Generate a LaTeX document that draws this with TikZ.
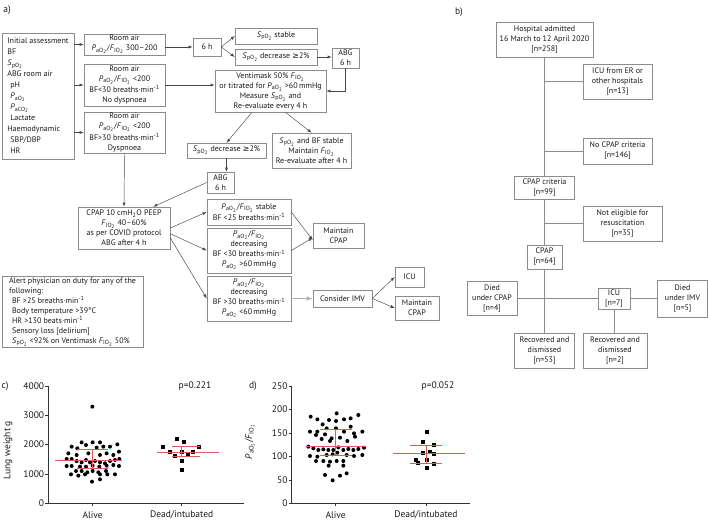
\documentclass[tikz,border=0pt]{standalone}
\usepackage{fontspec}
\setmainfont{PT Sans}
\newfontfamily\geqfont{DejaVu Sans}
\usetikzlibrary{arrows}

\definecolor{boxgray}{RGB}{140,140,140}
\definecolor{linegray}{RGB}{70,70,70}
\definecolor{medred}{RGB}{228,90,90}

\newcommand{\SpO}{\textit{S}\textsubscript{pO\textsubscript{2}}}
\newcommand{\PaO}{\textit{P}\textsubscript{aO\textsubscript{2}}}
\newcommand{\PaCO}{\textit{P}\textsubscript{aCO\textsubscript{2}}}
\newcommand{\FIO}{\textit{F}\textsubscript{IO\textsubscript{2}}}
\newcommand{\geqs}{{\geqfont\char"2265}}
\newcommand{\permin}{·min\textsuperscript{-1}}
\newcommand{\ncount}[1]{[n=#1]}

\begin{document}
\begin{tikzpicture}[x=1pt,y=-1pt,>=latex,
  every node/.style={font=\fontsize{8}{10}\selectfont, text=black!90},
  box/.style 2 args={draw=boxgray, line width=0.6pt, align=center, inner sep=1pt,
    minimum width=#1, minimum height=#2},
  link/.style={->, draw=linegray, line width=0.45pt},
  tree/.style={draw=boxgray, line width=0.6pt},
  plot/.style={font=\fontsize{9.5}{10}\selectfont},
  redbar/.style={draw=medred, line width=0.7pt}]
\useasboundingbox (0,0) rectangle (708,522);

% a) flow chart
\node[plot] (lbla) at (7,10) {a)};
\node[box={72}{126}, align=left, font=\fontsize{8}{11}\selectfont] (init) at (38,96)
  {Initial assessment\\ BF\\ \SpO\\ ABG room air\\ \hspace*{3pt}pH\\ \hspace*{3pt}\PaO\\
   \hspace*{3pt}\PaCO\\ \hspace*{3pt}Lactate\\ Haemodynamic\\ \hspace*{3pt}SBP/DBP\\ \hspace*{3pt}HR};
\node[box={81}{21}] (room1) at (124.5,44.5) {Room air\\ \PaO/\FIO\ 300--200};
\node[box={81}{42}] (room2) at (124.5,85) {Room air\\ \PaO/\FIO\ <200\\ BF<30 breaths\permin\\ No dyspnoea};
\node[box={81}{41}] (room3) at (124.5,132.5) {Room air\\ \PaO/\FIO\ <200\\ BF>30 breaths\permin\\ Dyspnoea};
\node[box={28}{18}] (sixh) at (207,47) {6 h};
\node[box={82}{16}] (spstab) at (276,36) {\SpO\ stable};
\node[box={82}{16}] (spdec) at (276,57) {\SpO\ decrease \geqs2\%};
\node[box={27}{20}] (abga) at (345.5,58) {ABG\\6 h};
\node[box={111}{42}] (venti) at (270.5,91)
  {Ventimask 50\% \FIO\\ or titrated for \PaO\ >60\,mmHg\\ Measure \SpO\ and\\ Re-evaluate every 4 h};
\node[box={79}{15}] (spdecb) at (226.5,150.5) {\SpO\ decrease \geqs2\%};
\node[box={79}{35}] (spbf) at (311.5,150.5) {\SpO\ and BF stable\\ Maintain \FIO\\ Re-evaluate after 4 h};
\node[box={27}{21}] (abgb) at (220.5,182.5) {ABG\\6 h};
\node[box={92}{42}] (cpap) at (124,228)
  {CPAP 10 cmH\textsubscript{2}O PEEP\\ \FIO\ 40--60\%\\ as per COVID protocol\\ ABG after 4 h};
\node[box={84}{26}] (pstab) at (249,212) {\PaO/\FIO\ stable\\ BF <25 breaths\permin};
\node[box={84}{45}] (pdeca) at (249,250.5) {\PaO/\FIO\\ decreasing\\ BF <30 breaths\permin\\ \PaO\ >60\,mmHg};
\node[box={84}{45}] (pdecb) at (249,298.5) {\PaO/\FIO\\ decreasing\\ BF >30 breaths\permin\\ \PaO\ <60\,mmHg};
\node[box={51}{25}] (maintA) at (338.5,235.5) {Maintain\\ CPAP};
\node[box={59}{17}] (imv) at (342.5,298.5) {Consider IMV};
\node[box={29}{20}] (icua) at (409.5,277) {ICU};
\node[box={44}{24}] (maintB) at (417,308) {Maintain\\ CPAP};
\node[box={141}{58}, align=left] (alert) at (72.5,312)
  {Alert physician on duty for any of the\\ following:\\ \hspace*{3pt}BF >25 breaths\permin\\
   \hspace*{3pt}Body temperature >39°C\\ \hspace*{3pt}HR >130 beats\permin\\
   \hspace*{3pt}Sensory loss [delirium]\\ \hspace*{3pt}\SpO\ <92\% on Ventimask \FIO\ 50\%};

\draw[link] (init.east |- room1) -- (room1);
\draw[link] (init.east |- room2) -- (room2);
\draw[link] (init.east |- room3) -- (room3);
\draw[link] (room1.east |- sixh.west) -- (sixh.west);
\draw[link] (sixh.east) -- (spstab.west);
\draw[link] (sixh.east) -- (spdec.west);
\draw[link] (spdec.east) -- (abga.west |- spdec.east);
\draw[link] (abga.south) |- (venti.east);
\draw[link] (room2.east) -- (venti.west |- room2.east);
\draw[link] (venti.229) -- (spdecb.north);
\draw[link] (venti.305) -- (spbf.north);
\draw[link] (spdecb.south) -- (spdecb.south |- abgb.north);
\draw[link] (abgb.west) -- (cpap.36);
\draw[link] (room3.south) -- (cpap.north);
\draw[link] (cpap.east) -- (pstab.west);
\draw[link] (cpap.-7) -- (pdeca.west);
\draw[link] (cpap.-12) -- (pdecb.west);
\draw[link] (pstab.east) -- (maintA.190);
\draw[link] (pdeca.east) -- (maintA.185);
\draw[link, draw=gray!60, line width=1.1pt] (pdecb.east) -- (imv.west);
\draw[link] (imv.east) -- (icua.west);
\draw[link] (imv.east) -- (maintB.west);

% b) patient flow
\node[plot] (lblb) at (459,12) {b)};
\node[box={97}{35}] (hosp) at (544.5,39.5) {Hospital admitted\\ 16 March to 12 April 2020\\ \ncount{258}};
\node[box={69}{35}] (icuer) at (617.5,81.5) {ICU from ER or\\ other hospitals\\ \ncount{13}};
\node[box={69}{26}] (nocpap) at (617.5,151) {No CPAP criteria\\ \ncount{146}};
\node[box={60}{23}] (crit) at (544.5,187.5) {CPAP criteria\\ \ncount{99}};
\node[box={79}{35}] (noteli) at (622.5,223.5) {Not eligible for\\ resuscitation\\ \ncount{35}};
\node[box={35}{24}] (cpapb) at (544.5,257) {CPAP\\ \ncount{64}};
\node[box={50}{34}] (diedc) at (492,298.5) {Died\\ under CPAP\\ \ncount{4}};
\node[box={32}{21}] (icub) at (614,298.5) {ICU\\ \ncount{7}};
\node[box={50}{37}] (diedi) at (682.5,298.5) {Died\\ under IMV\\ \ncount{5}};
\node[box={60}{35}] (reca) at (544.5,350.5) {Recovered and\\ dismissed\\ \ncount{53}};
\node[box={64}{35}] (recb) at (615,350.5) {Recovered and\\ dismissed\\ \ncount{2}};

\draw[tree] (hosp.south) -- (crit.north);
\draw[tree] (hosp.south |- icuer.west) -- (icuer.west);
\draw[tree] (hosp.south |- nocpap.west) -- (nocpap.west);
\draw[tree] (crit.south) -- (cpapb.north);
\draw[tree] (crit.south |- noteli.west) -- (noteli.west);
\draw[tree] (cpapb.south) -- (reca.north);
\draw[tree] (diedc.east) -- (icub.west);
\draw[tree] (icub.east) -- (diedi.west);
\draw[tree] (icub.south) -- (icub.south |- recb.north);

% c) lung weight
\begin{scope}[shift={(0,385)}, x=0.3333pt, y=-0.3333pt]
\node[plot] (lblc) at (15,3) {c)};
\draw[line width=0.6pt, black!80] (145,3) -- (145,355) -- (732,355);
\foreach \v/\yy in {0/355,1000/267,2000/179,3000/91,4000/3} {
  \draw[line width=0.6pt, black!80] (145,\yy) -- (136,\yy);
  \node[plot, anchor=east, inner sep=1pt] (cy\v) at (136,\yy) {\v};
}
\foreach \xx in {278,545} \draw[line width=0.6pt, black!80] (\xx,355) -- (\xx,364);
\node[plot] (calive) at (278,390) {Alive};
\node[plot] (cdead) at (545,390) {Dead/intubated};
\node[plot, rotate=90] (cylab) at (24,195) {Lung weight g};
\node[plot] (cp) at (585,3) {p=0.221};
\foreach \px/\py in {277/65,245/172,278/172,300/172,258/180,352/178,215/185,232/190,290/188,
  310/185,330/185,205/205,230/210,265/205,300/210,320/205,340/210,357/200,200/222,215/222,
  258/225,285/228,330/228,345/225,358/222,230/228,245/232,270/232,300/232,315/235,200/243,
  215/243,240/245,258/245,278/242,298/245,320/242,340/240,357/243,228/258,245/258,262/262,
  278/258,295/262,318/258,213/268,235/272,255/268,300/268,322/268,345/268,276/290,300/283}
  \fill (\px,\py) circle (2pt);
\foreach \px/\py in {490/185,530/162,553/172,510/200,545/200,598/187,580/200,525/212,
  565/207,545/228,545/255}
  \fill (\px,\py) ++(-2pt,-2pt) rectangle ++(4pt,4pt);
\draw[redbar] (230,192) -- (325,192) (165,225) -- (365,225) (230,250) -- (325,250) (278,192) -- (278,250);
\draw[redbar] (515,185) -- (600,185) (470,202) -- (658,202) (515,213) -- (600,213) (545,185) -- (545,213);
\end{scope}

% d) PaO2/FIO2
\begin{scope}[shift={(230,385)}, x=0.3333pt, y=-0.3333pt]
\node[plot] (lbld) at (69,3) {d)};
\draw[line width=0.6pt, black!80] (185,3) -- (185,355) -- (720,355);
\foreach \v/\yy in {0/355,50/285,100/214,150/144,200/73,250/3} {
  \draw[line width=0.6pt, black!80] (185,\yy) -- (176,\yy);
  \node[plot, anchor=east, inner sep=1pt] (dy\v) at (176,\yy) {\v};
}
\foreach \xx in {317,588} \draw[line width=0.6pt, black!80] (\xx,355) -- (\xx,364);
\node[plot] (dalive) at (317,390) {Alive};
\node[plot] (ddead) at (588,390) {Dead/intubated};
\node[plot, rotate=90] (dylab) at (60,170) {\PaO/\FIO};
\node[plot] (dp) at (624,3) {p=0.052};
\foreach \px/\py in {242/95,262/103,297/105,320/85,342/103,362/100,385/90,278/118,318/108,
  362/125,240/140,262/140,290/130,318/130,342/140,372/145,397/140,258/150,285/148,305/160,
  330/158,352/168,375/155,275/162,300/168,235/185,250/190,265/195,280/193,295/195,310/195,
  325/187,340/195,355/192,370/195,385/192,402/188,240/213,262/215,290/210,308/208,322/203,
  350/210,372/213,397/210,258/228,280/228,300/230,320/228,340/228,296/242,340/242,285/270,
  330/272,350/265,308/286}
  \fill (\px,\py) circle (2pt);
\foreach \px/\py in {590/142,578/172,612/180,578/203,600/200,612/207,557/225,565/235,
  590/225,612/237,590/250}
  \fill (\px,\py) ++(-2pt,-2pt) rectangle ++(4pt,4pt);
\draw[redbar] (270,133) -- (365,133) (230,185) -- (405,185) (270,210) -- (365,210) (317,133) -- (317,210);
\draw[redbar] (540,182) -- (635,182) (490,205) -- (705,205) (540,235) -- (635,235) (588,182) -- (588,235);
\end{scope}
\end{tikzpicture}
\end{document}
